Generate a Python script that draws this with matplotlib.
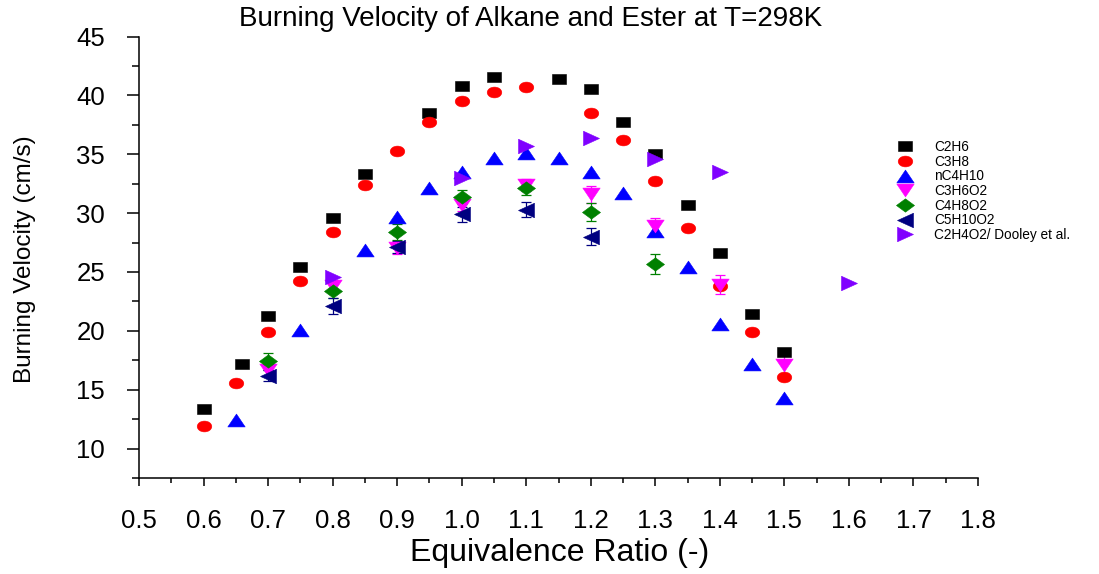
import matplotlib
matplotlib.use("Agg")
import matplotlib.pyplot as plt
from matplotlib.lines import Line2D
from matplotlib.markers import MarkerStyle
from matplotlib.transforms import Affine2D
from matplotlib.ticker import MultipleLocator

plt.rcParams["font.family"] = ["Liberation Sans", "DejaVu Sans"]

# laminar burning velocity (cm/s) against equivalence ratio, T = 298 K
phi_c2h6 = [0.60, 0.66, 0.70, 0.75, 0.80, 0.85, 0.95, 1.00, 1.05, 1.15, 1.20, 1.25, 1.30, 1.35, 1.40, 1.45, 1.50]
su_c2h6 = [13.4, 17.2, 21.3, 25.4, 29.6, 33.3, 38.5, 40.8, 41.6, 41.4, 40.5, 37.7, 35.0, 30.7, 26.6, 21.4, 18.2]

phi_c3h8 = [0.60, 0.65, 0.70, 0.75, 0.80, 0.85, 0.90, 0.95, 1.00, 1.05, 1.10, 1.20, 1.25, 1.30, 1.35, 1.40, 1.45, 1.50]
su_c3h8 = [11.9, 15.6, 19.9, 24.2, 28.4, 32.4, 35.3, 37.7, 39.5, 40.3, 40.7, 38.5, 36.2, 32.7, 28.7, 23.8, 19.9, 16.1]

phi_nc4h10 = [0.65, 0.75, 0.85, 0.90, 0.95, 1.00, 1.05, 1.10, 1.15, 1.20, 1.25, 1.30, 1.35, 1.40, 1.45, 1.50]
su_nc4h10 = [12.4, 20.1, 26.9, 29.7, 32.1, 33.5, 34.7, 35.1, 34.7, 33.5, 31.7, 28.5, 25.4, 20.6, 17.2, 14.3]

phi_c3h6o2 = [0.70, 0.80, 0.90, 1.00, 1.10, 1.20, 1.30, 1.40, 1.50]
su_c3h6o2 = [16.7, 23.8, 27.0, 30.7, 32.4, 31.6, 28.9, 23.9, 17.1]
err_c3h6o2 = [0.5, 0.5, 0.5, 0.5, 0.5, 0.7, 0.7, 0.8, 1.3]

phi_c4h8o2 = [0.70, 0.80, 0.90, 1.00, 1.10, 1.20, 1.30]
su_c4h8o2 = [17.4, 23.4, 28.4, 31.4, 32.1, 30.1, 25.7]
err_c4h8o2 = [0.7, 0.6, 0.7, 0.6, 0.6, 0.75, 0.85]

phi_c5h10o2 = [0.70, 0.80, 0.90, 1.00, 1.10, 1.20]
su_c5h10o2 = [16.2, 22.1, 27.1, 29.9, 30.3, 28.0]
err_c5h10o2 = [0.5, 0.7, 0.5, 0.65, 0.65, 0.7]

phi_c2h4o2 = [0.80, 1.00, 1.10, 1.20, 1.30, 1.40, 1.60]
su_c2h4o2 = [24.6, 33.0, 35.7, 36.4, 34.6, 33.5, 24.1]

labels = ["C2H6", "C3H8", "nC4H10", "C3H6O2", "C4H8O2", "C5H10O2", "C2H4O2/ Dooley et al."]


def wide(marker, sx=1.35):
    # symbols are drawn a little wider than tall
    ms = MarkerStyle(marker)
    return ms.get_path().transformed(ms.get_transform() + Affine2D().scale(sx, 1.0))


styles = [
    dict(marker=wide("s"), color="#000000", ms=10),
    dict(marker=wide("o"), color="#ff0000", ms=10.5),
    dict(marker=wide("^"), color="#0000ff", ms=12.5),
    dict(marker=wide("v"), color="#ff00ff", ms=12.5),
    dict(marker=wide("D"), color="#008000", ms=13),
    dict(marker=wide("<", 1.1), color="#000080", ms=11.5),
    dict(marker=wide(">", 1.1), color="#8000ff", ms=11.5),
]

fig = plt.figure(figsize=(10.99, 5.74), dpi=100)
ax = fig.add_axes([139 / 1099, 1 - 478 / 574, (978 - 139) / 1099, (478 - 36.5) / 574])

series = [
    (phi_c2h6, su_c2h6, None),
    (phi_c3h8, su_c3h8, None),
    (phi_nc4h10, su_nc4h10, None),
    (phi_c3h6o2, su_c3h6o2, err_c3h6o2),
    (phi_c4h8o2, su_c4h8o2, err_c4h8o2),
    (phi_c5h10o2, su_c5h10o2, err_c5h10o2),
    (phi_c2h4o2, su_c2h4o2, None),
]

handles = []
for (x, y, err), st, lab in zip(series, styles, labels):
    if err is not None:
        ax.errorbar(x, y, yerr=err, fmt="none", ecolor=st["color"], elinewidth=0.9,
                    capsize=3.6, capthick=0.9, zorder=2)
    ax.plot(x, y, linestyle="none", marker=st["marker"], markersize=st["ms"],
            color=st["color"], markeredgecolor=st["color"], markeredgewidth=0.4, zorder=3)
    handles.append(Line2D([], [], linestyle="none", marker=st["marker"], markersize=st["ms"],
                          color=st["color"], markeredgewidth=0.4, label=lab))

ax.set_xlim(0.5, 1.8)
ax.set_ylim(7.5, 45)
ax.xaxis.set_major_locator(MultipleLocator(0.1))
ax.xaxis.set_minor_locator(MultipleLocator(0.05))
ax.yaxis.set_minor_locator(MultipleLocator(2.5))
ax.set_yticks([10, 15, 20, 25, 30, 35, 40, 45])
ax.set_xticklabels([f"{v:.1f}" for v in ax.get_xticks()])

for side in ("top", "right"):
    ax.spines[side].set_visible(False)
for side in ("left", "bottom"):
    ax.spines[side].set_linewidth(1.1)
    ax.spines[side].set_clip_on(False)

ax.tick_params(axis="y", which="major", direction="out", length=8.5, width=1.1, labelsize=18.5, pad=16)
ax.tick_params(axis="y", which="minor", direction="out", length=5, width=1.1)
ax.tick_params(axis="x", which="major", direction="out", length=6, width=1.1, labelsize=18.5, pad=16)
ax.tick_params(axis="x", which="minor", direction="out", length=3.5, width=1.1)

fig.text(531 / 1099, 1 - 19 / 574, "Burning Velocity of Alkane and Ester at T=298K",
         ha="center", va="center", fontsize=20)
fig.text(560 / 1099, 1 - 553 / 574, "Equivalence Ratio (-)", ha="center", va="center", fontsize=23)
fig.text(25 / 1099, 1 - 259 / 574, "Burning Velocity (cm/s)", ha="center", va="center",
         rotation=90, fontsize=17.5)

fig.legend(handles=handles, loc="upper left", bbox_to_anchor=(895 / 1099, 1 - 140 / 574),
           frameon=False, fontsize=9.8, handlelength=1.4, handletextpad=1.5,
           labelspacing=0.05, borderpad=0, borderaxespad=0)

fig.savefig("out.png", dpi=100)
